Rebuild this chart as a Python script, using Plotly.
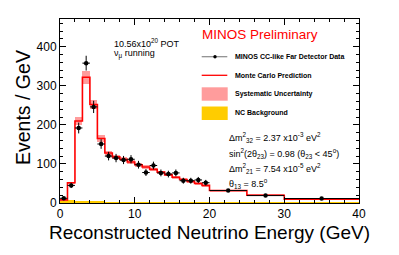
import numpy as np
import plotly.graph_objects as go

# ---------------- data ----------------
bin_edges = [0, 1, 2, 3, 4, 5, 6, 7, 8, 9, 10, 11, 12, 13, 14, 15, 16, 17, 18, 19, 20, 25, 30, 40]
mc_prediction = [8, 52, 210, 322, 252, 165, 128, 118, 112, 105, 98, 92, 86, 79, 72, 66, 60, 55, 50, 45, 32, 20, 10]
data_values = [12, 45, 192, 358, 246, 151, 120, 115, 110, 112, 98, 78, 96, 77, 74, 77, 57, 57, 59, 52, 32, 19, 11.5]
nc_background = [6, 8, 6, 4.5, 3.5, 3, 2.5, 2.2, 2, 1.8, 1.6, 1.5, 1.4, 1.3, 1.2, 1.1, 1, 1, 0.9, 0.9, 0.8, 0.6, 0.5]
syst_fraction = 0.05

x_ticks = [0, 10, 20, 30, 40]
y_ticks = [0, 100, 200, 300, 400]

# ---------------- derived ----------------
edges = np.array(bin_edges, dtype=float)
centers = 0.5 * (edges[:-1] + edges[1:])
widths = np.diff(edges)
mc = np.array(mc_prediction, dtype=float)
dat = np.array(data_values, dtype=float)
nc = np.array(nc_background, dtype=float)
syst = mc * syst_fraction
dat_err = np.sqrt(dat * widths) / widths

W, H = 399, 255
L, R, T, B = 60, 40, 19, 52
PW, PH = W - L - R, H - T - B

def px(x):
    return (x - L) / PW

def py(y):
    return (H - B - y) / PH

FONT = "Liberation Sans, Arial, Helvetica, sans-serif"

fig = go.Figure()

# systematic band
fig.add_trace(go.Bar(x=centers, y=2 * syst, base=mc - syst, width=widths,
                     marker=dict(color="#ff9c9c", line=dict(width=0)), showlegend=False))
# NC background
fig.add_trace(go.Bar(x=centers, y=nc, width=widths,
                     marker=dict(color="#ffcc00", line=dict(width=0)), showlegend=False))
# MC prediction step line
fig.add_trace(go.Scatter(x=edges, y=np.append(mc, mc[-1]), mode="lines", line_shape="hv",
                         line=dict(color="#ff0000", width=1.6), showlegend=False))
# data
fig.add_trace(go.Scatter(x=centers, y=dat, mode="markers",
                         marker=dict(color="black", size=4.5),
                         error_y=dict(type="data", array=dat_err, color="black", thickness=1, width=0),
                         error_x=dict(type="data", array=widths / 2, color="black", thickness=1, width=0),
                         showlegend=False))

axis_common = dict(showline=True, linecolor="black", linewidth=1, mirror="ticks",
                   ticks="inside", ticklen=6, tickcolor="black", tickwidth=1,
                   showgrid=False, zeroline=False, automargin=False,
                   tickfont=dict(family=FONT, size=12, color="black"))

fig.update_layout(
    width=W, height=H,
    margin=dict(l=L, r=R, t=T, b=B, pad=0),
    paper_bgcolor="white", plot_bgcolor="white",
    barmode="overlay", bargap=0,
    showlegend=False,
    font=dict(family=FONT, color="black"),
    xaxis=dict(range=[0, 40], tickvals=x_ticks, ticktext=[str(v) for v in x_ticks],
               minor=dict(dtick=2, ticklen=3, ticks="inside", tickcolor="black", showgrid=False),
               **axis_common),
    yaxis=dict(range=[0, 471], tickvals=y_ticks, ticktext=[str(v) for v in y_ticks],
               minor=dict(dtick=20, ticklen=3, ticks="inside", tickcolor="black", showgrid=False),
               **axis_common),
)

ann = []
def text(x, y, s, size, color="black", xanchor="left", yanchor="middle", angle=0):
    ann.append(dict(x=px(x), y=py(y), xref="paper", yref="paper", text=s, showarrow=False,
                    xanchor=xanchor, yanchor=yanchor, textangle=angle,
                    font=dict(family=FONT, size=size, color=color)))

# axis titles
text(209.5, 232, "Reconstructed Neutrino Energy (GeV)", 19, xanchor="center")
text(23, 108, "Events / GeV", 19.5, xanchor="center", angle=-90)

# header texts
text(112, 43, "10.56x10<sup>20</sup> POT", 9)
text(112, 54, "ν<sub>μ</sub> running", 9)
text(200, 34, "MINOS Preliminary", 13.5, color="#ff0000")

# legend
leg_y = [56.7, 75.3, 94, 113.3]
leg_txt = ["MINOS CC-like Far Detector Data", "Monte Carlo Prediction",
           "Systematic Uncertainty", "NC Background"]
for yy, s in zip(leg_y, leg_txt):
    text(232.7, yy, "<b>" + s + "</b>", 7)

shapes = []
shapes.append(dict(type="line", xref="paper", yref="paper", x0=px(201.7), x1=px(227.3),
                   y0=py(56.7), y1=py(56.7), line=dict(color="#888888", width=1.2)))
shapes.append(dict(type="circle", xref="paper", yref="paper", x0=px(213.3), x1=px(216.7),
                   y0=py(58.4), y1=py(55), fillcolor="black", line=dict(color="black", width=0)))
shapes.append(dict(type="line", xref="paper", yref="paper", x0=px(201.7), x1=px(227.3),
                   y0=py(75.3), y1=py(75.3), line=dict(color="#ff0000", width=1.3)))
shapes.append(dict(type="rect", xref="paper", yref="paper", x0=px(201.7), x1=px(227.7),
                   y0=py(100.7), y1=py(87.3), fillcolor="#ff9c9c", line=dict(width=0)))
shapes.append(dict(type="rect", xref="paper", yref="paper", x0=px(201.7), x1=px(227.7),
                   y0=py(120), y1=py(106.5), fillcolor="#ffcc00", line=dict(width=0)))

# oscillation parameters
text(227, 137, "Δm<sup>2</sup><sub>32</sub> = 2.37 x10<sup>-3</sup> eV<sup>2</sup>", 9)
text(227, 153, "sin<sup>2</sup>(2θ<sub>23</sub>) = 0.98 (θ<sub>23</sub> &lt; 45<sup>o</sup>)", 9)
text(227, 168, "Δm<sup>2</sup><sub>21</sub> = 7.54 x10<sup>-5</sup> eV<sup>2</sup>", 9)
text(227, 183, "θ<sub>13</sub> = 8.5<sup>o</sup>", 9)

fig.update_layout(annotations=ann, shapes=shapes)
fig.write_html("out.html",
               config={"displayModeBar": False},
               post_script="document.body.style.margin='0';document.body.style.padding='0';")
